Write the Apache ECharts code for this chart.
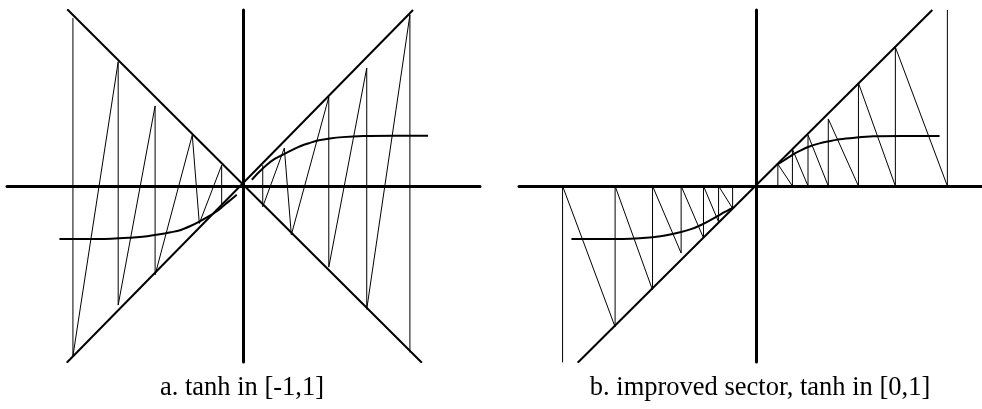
<!DOCTYPE html>
<html>
<head>
<meta charset="utf-8">
<script src="https://cdn.jsdelivr.net/npm/echarts@6/dist/echarts.min.js"></script>
<style>
  html, body { margin: 0; padding: 0; background: #fff; }
  #chart { width: 982px; height: 409px; }
</style>
</head>
<body>
<div id="chart"></div>
<script>
// ---- Panel a: sector [-1,1] ----
const sectorAFalling = [[-3.39, 3.40], [3.43, -3.40]];
const sectorARising = [[-3.40, -3.40], [3.26, 3.385]];
const zigzagARight = [[3.20, -3.20], [3.20, 3.29], [2.37, -2.37], [2.37, 2.27], [1.64, -1.56], [1.64, 1.71],
                      [0.92, -0.94], [0.785, 0.73], [0.37, -0.40], [0.37, 0.40]];
const zigzagALeft = [[-3.28, 3.23], [-3.28, -3.27], [-2.41, 2.39], [-2.41, -2.29], [-1.70, 1.54], [-1.70, -1.71],
                     [-0.985, 0.98], [-0.85, -0.72], [-0.42, 0.40], [-0.42, -0.35]];
const tanhALeft = [[-3.54, -1.02], [-2.76, -1.02], [-2.12, -0.99], [-1.85, -0.965], [-1.61, -0.93],
                   [-1.40, -0.89], [-1.22, -0.85], [-1.02, -0.77], [-0.84, -0.68], [-0.68, -0.59],
                   [-0.52, -0.49], [-0.40, -0.395], [-0.30, -0.31], [-0.13, -0.17]];
const tanhARight = [[0.16, 0.12], [0.30, 0.27], [0.45, 0.41], [0.60, 0.52], [0.77, 0.61], [0.95, 0.70],
                    [1.10, 0.77], [1.28, 0.83], [1.45, 0.88], [1.66, 0.915], [1.90, 0.94], [2.30, 0.96],
                    [2.90, 0.965], [3.55, 0.965]];

// ---- Panel b: improved sector [0,1] ----
const sectorB = [[-3.43, -3.40], [3.39, 3.385]];
const zigzagBLeft = [[-3.72, -3.40], [-3.72, 0], [-2.71, -2.71], [-2.71, 0], [-1.99, -2.00], [-1.99, 0],
                     [-1.44, -1.29], [-1.44, 0], [-1.01, -1.00], [-1.01, 0], [-0.72, -0.69], [-0.72, 0],
                     [-0.45, -0.43], [-0.45, 0]];
const zigzagBRight = [[3.68, 3.385], [3.68, 0], [2.68, 2.67], [2.68, 0], [1.97, 1.98], [1.97, 0],
                      [1.39, 1.29], [1.39, 0], [1.00, 0.98], [1.00, 0], [0.70, 0.71], [0.70, 0],
                      [0.42, 0.42], [0.42, 0]];
const tanhBLeft = [[-3.55, -1.02], [-2.69, -1.02], [-2.05, -0.99], [-1.75, -0.95], [-1.44, -0.885],
                   [-1.25, -0.83], [-1.09, -0.765], [-0.92, -0.68], [-0.765, -0.595], [-0.60, -0.50],
                   [-0.45, -0.42]];
const tanhBRight = [[0.42, 0.42], [0.55, 0.50], [0.70, 0.60], [0.85, 0.68], [1.00, 0.75], [1.22, 0.82],
                    [1.40, 0.86], [1.61, 0.90], [1.90, 0.93], [2.25, 0.955], [2.80, 0.96], [3.53, 0.96]];

const captions = ['a. tanh in [-1,1]', 'b. improved sector, tanh in [0,1]'];

const INK = '#000';

function axisPair(gridIndex, xmin, xmax, ymin, ymax) {
  const common = {
    type: 'value',
    gridIndex: gridIndex,
    axisLine: { show: true, onZero: true, lineStyle: { color: INK, width: 3 } },
    axisTick: { show: false },
    axisLabel: { show: false },
    splitLine: { show: false }
  };
  return {
    x: Object.assign({}, common, { min: xmin, max: xmax }),
    y: Object.assign({}, common, { min: ymin, max: ymax })
  };
}

function line(gridIndex, data, width, smooth) {
  return {
    type: 'line',
    xAxisIndex: gridIndex,
    yAxisIndex: gridIndex,
    data: data,
    showSymbol: false,
    symbol: 'none',
    smooth: smooth ? 0.3 : false,
    silent: true,
    lineStyle: { color: INK, width: width },
    z: 3
  };
}

const axA = axisPair(0, -4.548, 4.548, -3.385, 3.385);
const axB = axisPair(1, -4.558, 4.346, -3.385, 3.385);

const captionStyle = { fontFamily: 'Liberation Serif', fontWeight: 'normal', fontSize: 26.5, color: INK };

const chart = echarts.init(document.getElementById('chart'), null, { renderer: 'canvas' });
chart.setOption({
  backgroundColor: '#fff',
  animation: false,
  title: [
    { text: captions[0], left: 237, top: 370, textAlign: 'center', textStyle: captionStyle },
    { text: captions[1], left: 755, top: 370, textAlign: 'center', textStyle: captionStyle }
  ],
  grid: [
    { left: 7, top: 10, width: 473, height: 352, outerBoundsMode: 'none' },
    { left: 519, top: 10, width: 463, height: 352, outerBoundsMode: 'none' }
  ],
  xAxis: [axA.x, axB.x],
  yAxis: [axA.y, axB.y],
  series: [
    line(0, sectorAFalling, 2),
    line(0, sectorARising, 2),
    line(0, zigzagARight, 1),
    line(0, zigzagALeft, 1),
    line(0, tanhALeft, 2, true),
    line(0, tanhARight, 2, true),
    line(1, sectorB, 2),
    line(1, zigzagBLeft, 1),
    line(1, zigzagBRight, 1),
    line(1, tanhBLeft, 2, true),
    line(1, tanhBRight, 2, true)
  ]
});
</script>
</body>
</html>
